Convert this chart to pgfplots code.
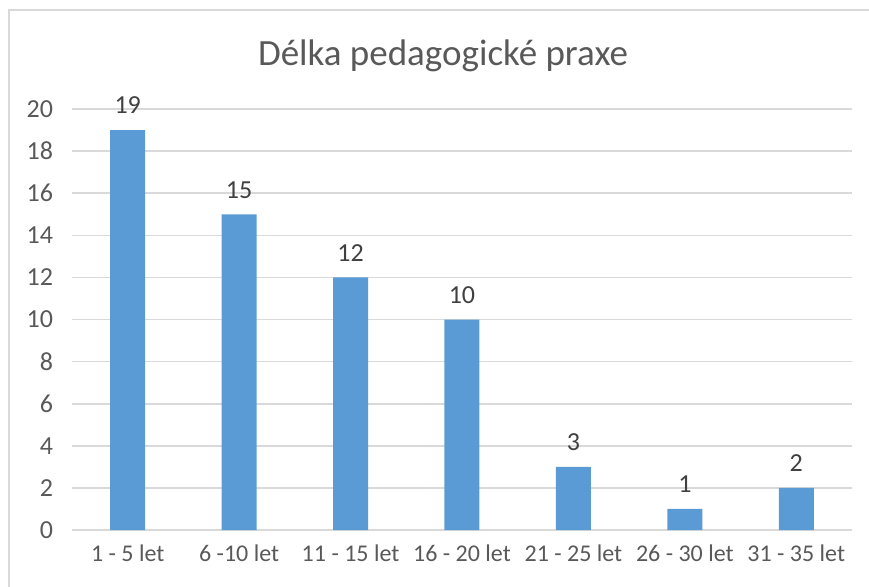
\documentclass[border=0pt]{standalone}
\usepackage{pgfplots}
\pgfplotsset{compat=1.18}
\usepackage{fontspec}
\setmainfont{Carlito}
\definecolor{barblue}{HTML}{5B9BD5}
\definecolor{gridgray}{HTML}{D9D9D9}
\definecolor{txtgray}{HTML}{595959}
\definecolor{lblgray}{HTML}{404040}
\begin{document}
\begin{tikzpicture}
\useasboundingbox (0,0) rectangle (434.5pt,293pt);
\draw[gridgray, line width=1.2pt] (4.5pt,-2pt) -- (4.5pt,288pt) -- (436pt,288pt);
\node[txtgray, font=\fontsize{18.5}{20}\selectfont] at (221.5pt,265pt) {Délka pedagogické praxe};
\begin{axis}[
  at={(36pt,28pt)}, anchor=south west,
  scale only axis, width=390pt, height=210.5pt,
  ymin=0, ymax=20, ytick={0,2,...,20},
  xmin=-0.5, xmax=6.5, xtick=data,
  xticklabels={1 - 5 let, 6 -10 let, 11 - 15 let, 16 - 20 let, 21 - 25 let, 26 - 30 let, 31 - 35 let},
  axis line style={draw=none},
  major tick length=0pt,
  ymajorgrids, grid style={gridgray, line width=0.8pt},
  tick label style={txtgray, font=\fontsize{12}{14}\selectfont},
  yticklabel style={font=\fontsize{13}{14}\selectfont},
  /pgf/number format/assume math mode=true,
  yticklabel style={xshift=-6pt},
  xticklabel style={yshift=-4pt},
  ybar, bar width=17.5pt,
  nodes near coords,
  nodes near coords style={lblgray, font=\fontsize{13}{14}\selectfont, yshift=4.5pt},
]
\addplot[fill=barblue, draw=none] coordinates {(0,19) (1,15) (2,12) (3,10) (4,3) (5,1) (6,2)};
\end{axis}
\end{tikzpicture}
\end{document}
